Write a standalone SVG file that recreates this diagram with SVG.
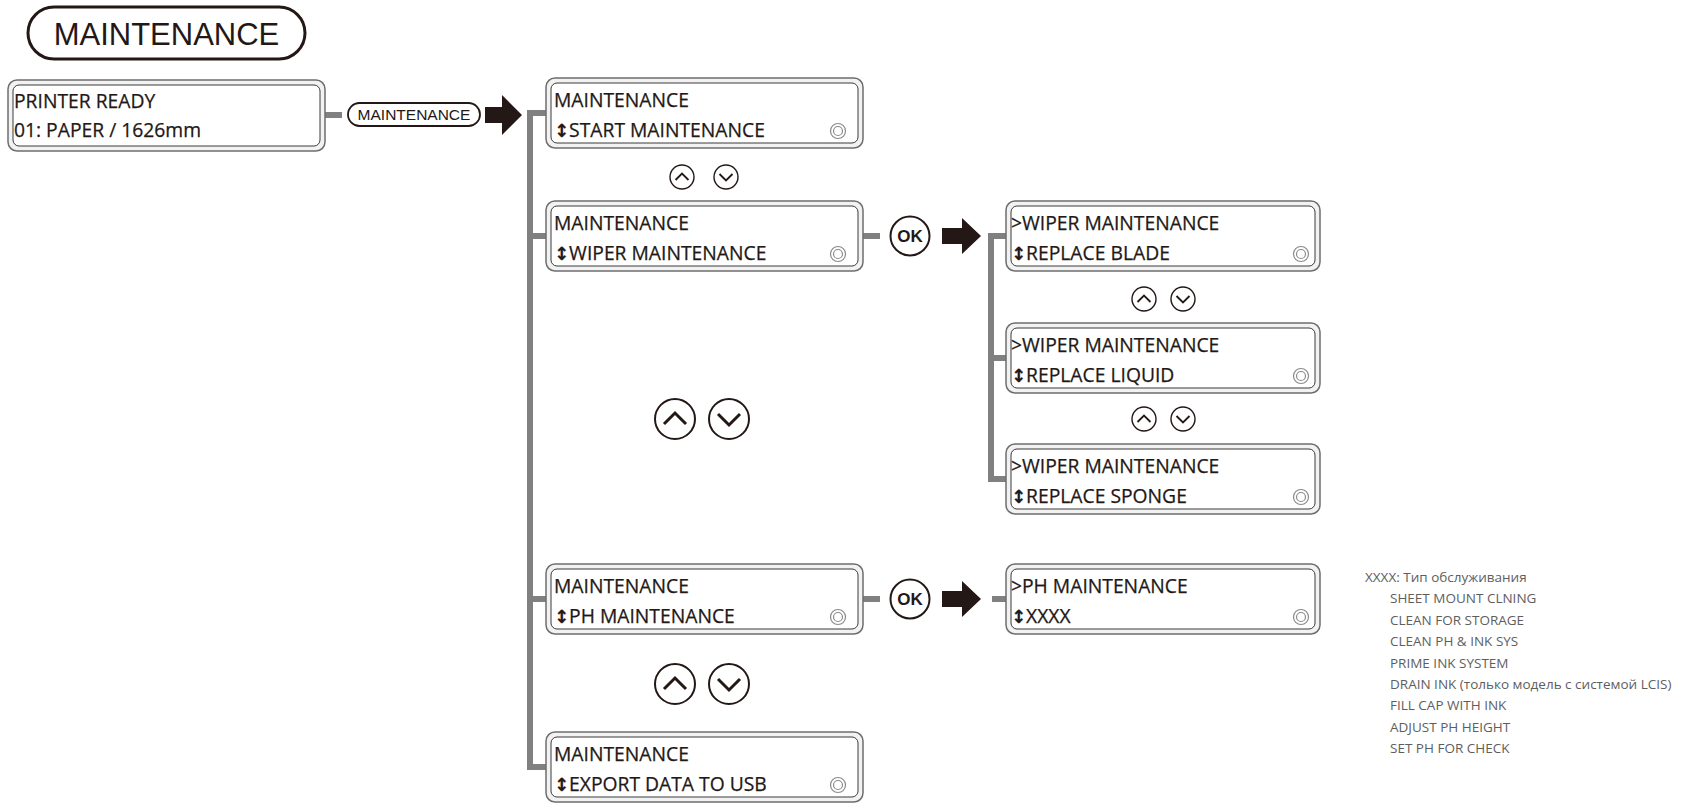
<svg xmlns="http://www.w3.org/2000/svg" width="1684" height="810" viewBox="0 0 1684 810">
<defs>
<style>
.ob{fill:#f2f2f2;stroke:#6e6e6e;stroke-width:1.5}
.ib{fill:#fff;stroke:#3a3a3a;stroke-width:1}
.t{font-family:"Open Sans","Noto Sans",sans-serif;font-size:19.3px;fill:#231815;stroke:#231815;stroke-width:0.25}
.ar{font-family:"DejaVu Sans",sans-serif;font-weight:bold;font-size:18px}
.dc{fill:none;stroke:#8a8a8a;stroke-width:1.2}
.conn{fill:none;stroke:#808080;stroke-width:6;stroke-linejoin:miter;stroke-linecap:butt}
.blk{fill:#231815}
.btn{fill:#fff;stroke:#231815}
.chev{fill:none;stroke:#231815;stroke-linejoin:miter}
.note{font-family:"Open Sans","Noto Sans",sans-serif;font-size:13.5px;fill:#5e5e5e}
.ok{font-family:"Liberation Sans",Arial,sans-serif;font-weight:bold;font-size:17px;fill:#231815}
</style>
<g id="dcirc"><circle class="dc" r="7.5"/><circle class="dc" r="4.5"/></g>
<g id="upS"><circle class="btn" r="12" stroke-width="1.4"/><polyline class="chev" stroke-width="1.8" points="-6.5,3 0,-3.5 6.5,3"/></g>
<g id="dnS"><circle class="btn" r="12" stroke-width="1.4"/><polyline class="chev" stroke-width="1.8" points="-6.5,-3 0,3.5 6.5,-3"/></g>
<g id="upL"><circle class="btn" r="20" stroke-width="2"/><polyline class="chev" stroke-width="3" points="-11,5 0,-6 11,5"/></g>
<g id="dnL"><circle class="btn" r="20" stroke-width="2"/><polyline class="chev" stroke-width="3" points="-11,-5 0,6 11,-5"/></g>
</defs>
<rect width="1684" height="810" fill="#fff"/>

<g id="connectors">
<line class="conn" x1="325" y1="115" x2="342" y2="115"/>
<path class="conn" d="M546,113 H530 V767 H546"/>
<path class="conn" d="M530,236 H546 M530,599 H546"/>
<path class="conn" d="M863,236 H880 M863,599 H880"/>
<path class="conn" d="M1006,236 H991 V479 H1006 M991,358 H1006"/>
<path class="conn" d="M992,599 H1006"/>
<polygon class="blk" points="485,107 502,107 502,95 522,115 502,135 502,123 485,123"/>
<polygon class="blk" points="942,228 962,228 962,218 981,236 962,254 962,244 942,244"/>
<polygon class="blk" points="942,591 962,591 962,581 981,599 962,617 962,607 942,607"/>
</g>

<g id="title">
<rect x="28" y="7" width="277" height="52" rx="26" fill="none" stroke="#231815" stroke-width="3"/>
<text x="166.5" y="45" text-anchor="middle" font-family="Liberation Sans, Arial, sans-serif" font-size="31" fill="#231815">MAINTENANCE</text>
</g>

<g id="printer-ready">
<rect class="ob" x="8" y="80" width="317" height="71" rx="9"/>
<rect class="ib" x="13" y="85" width="307" height="61" rx="6"/>
<text class="t" x="14" y="108">PRINTER READY</text>
<text class="t" x="14" y="137">01: PAPER / 1626mm</text>
</g>

<g id="btn-maintenance">
<rect x="348" y="103" width="132" height="23" rx="11.5" fill="#fff" stroke="#231815" stroke-width="1.8"/>
<text x="414" y="120" text-anchor="middle" font-family="Liberation Sans, Arial, sans-serif" font-size="15.5" fill="#231815">MAINTENANCE</text>
</g>

<g id="m-start">
<rect class="ob" x="546" y="78" width="317" height="70" rx="9"/>
<rect class="ib" x="551" y="83" width="307" height="60" rx="6"/>
<text class="t" x="554" y="107">MAINTENANCE</text>
<text class="t" x="554" y="137"><tspan class="ar">↕</tspan>START MAINTENANCE</text>
<use href="#dcirc" x="838" y="131"/>
</g>

<g id="nav1"><use href="#upS" x="682" y="177"/><use href="#dnS" x="726" y="177"/></g>

<g id="m-wiper">
<rect class="ob" x="546" y="201" width="317" height="70" rx="9"/>
<rect class="ib" x="551" y="206" width="307" height="60" rx="6"/>
<text class="t" x="554" y="230">MAINTENANCE</text>
<text class="t" x="554" y="260"><tspan class="ar">↕</tspan>WIPER MAINTENANCE</text>
<use href="#dcirc" x="838" y="254"/>
</g>

<g id="ok1">
<circle cx="910" cy="236" r="19.5" fill="#fff" stroke="#231815" stroke-width="2"/>
<text class="ok" x="910" y="242" text-anchor="middle">OK</text>
</g>

<g id="nav2"><use href="#upL" x="675" y="419"/><use href="#dnL" x="729" y="419"/></g>

<g id="m-ph">
<rect class="ob" x="546" y="564" width="317" height="70" rx="9"/>
<rect class="ib" x="551" y="569" width="307" height="60" rx="6"/>
<text class="t" x="554" y="593">MAINTENANCE</text>
<text class="t" x="554" y="623"><tspan class="ar">↕</tspan>PH MAINTENANCE</text>
<use href="#dcirc" x="838" y="617"/>
</g>

<g id="ok2">
<circle cx="910" cy="599" r="19.5" fill="#fff" stroke="#231815" stroke-width="2"/>
<text class="ok" x="910" y="605" text-anchor="middle">OK</text>
</g>

<g id="nav3"><use href="#upL" x="675" y="684"/><use href="#dnL" x="729" y="684"/></g>

<g id="m-export">
<rect class="ob" x="546" y="732" width="317" height="70" rx="9"/>
<rect class="ib" x="551" y="737" width="307" height="60" rx="6"/>
<text class="t" x="554" y="761">MAINTENANCE</text>
<text class="t" x="554" y="791"><tspan class="ar">↕</tspan>EXPORT DATA TO USB</text>
<use href="#dcirc" x="838" y="785"/>
</g>

<g id="w-blade">
<rect class="ob" x="1006" y="201" width="314" height="70" rx="9"/>
<rect class="ib" x="1011" y="206" width="304" height="60" rx="6"/>
<text class="t" x="1011" y="230">&gt;WIPER MAINTENANCE</text>
<text class="t" x="1011" y="260"><tspan class="ar">↕</tspan>REPLACE BLADE</text>
<use href="#dcirc" x="1301" y="254"/>
</g>

<g id="nav4"><use href="#upS" x="1144" y="299"/><use href="#dnS" x="1183" y="299"/></g>

<g id="w-liquid">
<rect class="ob" x="1006" y="323" width="314" height="70" rx="9"/>
<rect class="ib" x="1011" y="328" width="304" height="60" rx="6"/>
<text class="t" x="1011" y="352">&gt;WIPER MAINTENANCE</text>
<text class="t" x="1011" y="382"><tspan class="ar">↕</tspan>REPLACE LIQUID</text>
<use href="#dcirc" x="1301" y="376"/>
</g>

<g id="nav5"><use href="#upS" x="1144" y="419"/><use href="#dnS" x="1183" y="419"/></g>

<g id="w-sponge">
<rect class="ob" x="1006" y="444" width="314" height="70" rx="9"/>
<rect class="ib" x="1011" y="449" width="304" height="60" rx="6"/>
<text class="t" x="1011" y="473">&gt;WIPER MAINTENANCE</text>
<text class="t" x="1011" y="503"><tspan class="ar">↕</tspan>REPLACE SPONGE</text>
<use href="#dcirc" x="1301" y="497"/>
</g>

<g id="ph-xxxx">
<rect class="ob" x="1006" y="564" width="314" height="70" rx="9"/>
<rect class="ib" x="1011" y="569" width="304" height="60" rx="6"/>
<text class="t" x="1011" y="593">&gt;PH MAINTENANCE</text>
<text class="t" x="1011" y="623"><tspan class="ar">↕</tspan>XXXX</text>
<use href="#dcirc" x="1301" y="617"/>
</g>

<g id="note">
<text class="note" x="1365" y="582">XXXX: Тип обслуживания</text>
<text class="note" x="1390" y="603.4">SHEET MOUNT CLNING</text>
<text class="note" x="1390" y="624.8">CLEAN FOR STORAGE</text>
<text class="note" x="1390" y="646.2">CLEAN PH &amp; INK SYS</text>
<text class="note" x="1390" y="667.6">PRIME INK SYSTEM</text>
<text class="note" x="1390" y="689">DRAIN INK (только модель с системой LCIS)</text>
<text class="note" x="1390" y="710.4">FILL CAP WITH INK</text>
<text class="note" x="1390" y="731.8">ADJUST PH HEIGHT</text>
<text class="note" x="1390" y="753.2">SET PH FOR CHECK</text>
</g>
</svg>
